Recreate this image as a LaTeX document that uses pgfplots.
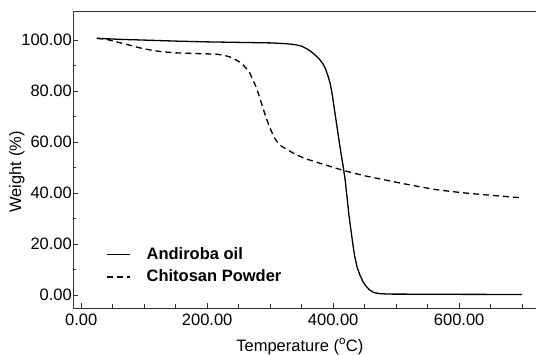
\documentclass[border=0pt]{standalone}
\usepackage{fontspec}
\setmainfont{Liberation Sans}
\usepackage{pgfplots}
\pgfplotsset{compat=1.18}
\begin{document}
\fontsize{16.5}{19}\selectfont
\begin{tikzpicture}
\begin{axis}[
  scale only axis, width=463pt, height=297pt,
  xmin=-13, xmax=722, ymin=-5, ymax=111.4,
  axis lines=left,
  axis line style={-, black!80, line width=0.9pt},
  xtick={0,200,400,600},
  minor xtick={50,100,150,250,300,350,450,500,550,650,700},
  ytick={0,20,40,60,80,100},
  minor ytick={10,30,50,70,90},
  tick align=inside,
  major tick length=5pt, minor tick length=3.5pt,
  tick style={black!80, line width=0.8pt},
  /pgf/number format/assume math mode=true,
  /pgf/number format/fixed, /pgf/number format/fixed zerofill,
  /pgf/number format/precision=2,
  /pgf/number format/1000 sep={},
  tick label style={font=\fontsize{16.5}{19}\selectfont},
  yticklabel style={xshift=4.5pt},
  xlabel={Temperature (\textsuperscript{o}C)},
  ylabel={Weight (\%)},
  xlabel style={at={(axis description cs:0.49,-0.145)}, anchor=base},
  ylabel style={at={(axis description cs:-0.121,0.458)}, anchor=center, rotate=0},
  legend cell align=left,
  legend style={draw=none, fill=none, at={(axis description cs:0.065,0.218)}, anchor=north west,
    font=\fontsize{16.5}{19}\selectfont\bfseries, row sep=4pt, column sep=14pt},
  legend image code/.code={\draw[#1] (0pt,0pt) -- (23pt,0pt);},
  clip=false,
]
\addplot[black, line width=1.3pt] coordinates {
(25,100.7) (60,100.3) (100,100.0) (150,99.6) (200,99.3) (250,99.1) (300,98.9)
(325,98.6) (340,98.2) (350,97.6) (358,96.6) (365,95.5) (372,94.0) (378,92.6)
(384,90.6) (388,88.6) (392,85.8) (395,83.2) (398,79.5) (401,74.5) (404,69.5)
(407,64.5) (410,59.5) (413,54.8) (416,50.3) (419,45.3) (422,38.5) (425,31.5)
(428,26) (431,20.5) (434,15.5) (438,11) (442,8.2) (447,5.4)
(452,3.6) (458,2.0) (465,1.0) (475,0.6) (489,0.45) (550,0.4) (600,0.35) (700,0.3)
};
\addlegendentry{Andiroba oil}
\addplot[black, line width=1.3pt, dash pattern=on 6pt off 4pt] coordinates {
(25,100.7) (40,100.3) (61,99) (80,97.8) (97,96.7) (115,95.9) (129,95.4) (150,95.0)
(172,94.8) (200,94.6) (214,94.5) (225,94.1) (235,93.5) (243,92.6) (251,91.5)
(257,90.3) (262,88.9) (267,87.4) (272,84.8) (278,81.4) (283,77.8) (288,73.8)
(293,70.0) (297,67.3) (301,64.8) (305,62.6) (309,60.8) (313,59.5) (318,58.4)
(324,57.5) (332,56.4) (341,55.1) (355,53.6) (373,52.2) (395,50.5) (415,49)
(435,47.7) (452,46.7) (480,45.3) (510,43.8) (540,42.4) (563,41.4) (590,40.6)
(616,39.9) (640,39.4) (669,38.8) (698,38.2)
};
\addlegendentry{Chitosan Powder}
\draw[black!80, line width=0.9pt] (rel axis cs:0,1) -- (rel axis cs:1,1);
\end{axis}
\pgfresetboundingbox
\path[use as bounding box] ([xshift=-73pt,yshift=-47pt]current axis.south west) rectangle ([yshift=11pt]current axis.north east);
\end{tikzpicture}
\end{document}
